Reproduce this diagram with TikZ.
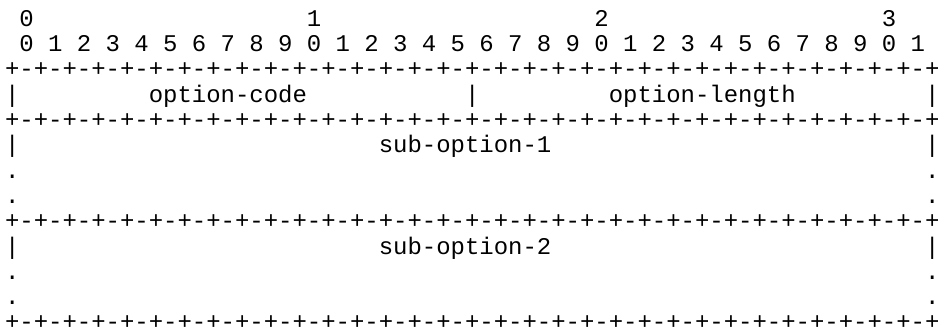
\documentclass[tikz,border=0pt]{standalone}
\usepackage{fontspec}
\setmonofont{Liberation Mono}
\newcommand\borderrow{+-+-+-+-+-+-+-+-+-+-+-+-+-+-+-+-+-+-+-+-+-+-+-+-+-+-+-+-+-+-+-+-+}
\begin{document}
\begin{tikzpicture}[x=7.1875pt,y=-12.65pt,
  every node/.style={anchor=base west,inner sep=0pt,xshift=2.3pt,yshift=-0.55pt,
    text depth=0pt,font=\ttfamily\fontsize{11.98pt}{12.65pt}\selectfont}]
\useasboundingbox (0,0) rectangle (469.5pt,-165.5pt);
%位号
\node (dec0) at (1,1) {0};
\node (dec1) at (21,1) {1};
\node (dec2) at (41,1) {2};
\node (dec3) at (61,1) {3};
\node (bits) at (1,2) {0 1 2 3 4 5 6 7 8 9 0 1 2 3 4 5 6 7 8 9 0 1 2 3 4 5 6 7 8 9 0 1};
%分隔线
\node (rowa) at (0,3) {\borderrow};
\node (rowb) at (0,5) {\borderrow};
\node (rowc) at (0,9) {\borderrow};
\node (rowd) at (0,13) {\borderrow};
%字段
\node (bara) at (0,4) {|};
\node (code) at (10,4) {option-code};
\node (barb) at (32,4) {|};
\node (len) at (42,4) {option-length};
\node (barc) at (64,4) {|};
\node (subl) at (0,6) {|};
\node (subone) at (26,6) {sub-option-1};
\node (subr) at (64,6) {|};
\node (sbl) at (0,10) {|};
\node (subtwo) at (26,10) {sub-option-2};
\node (sbr) at (64,10) {|};
\foreach \r in {7,8,11,12}{
  \node (dotl\r) at (0,\r) {.};
  \node (dotr\r) at (64,\r) {.};
}
\end{tikzpicture}
\end{document}
